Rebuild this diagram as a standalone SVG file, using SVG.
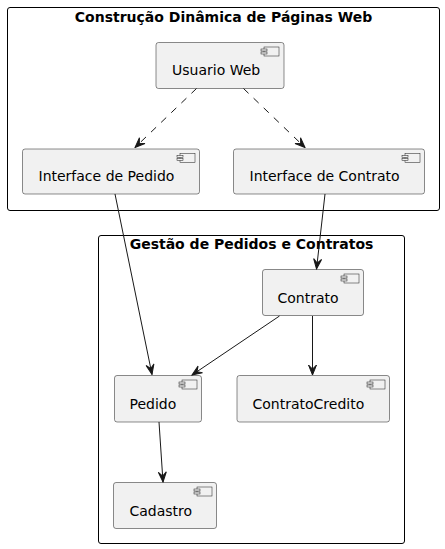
<svg xmlns="http://www.w3.org/2000/svg" width="445" height="549" viewBox="0 0 445 549">
<style>
.pkg{fill:none;stroke:#000;stroke-width:1}
.ptitle{font-family:"DejaVu Sans",sans-serif;font-size:14px;font-weight:bold;fill:#000}
.box{fill:#F1F1F1;stroke:#181818;stroke-width:0.5}
.lbl{font-family:"DejaVu Sans",sans-serif;font-size:14px;fill:#000}
.ic{fill:#F1F1F1;stroke:#181818;stroke-width:0.5}
.e{fill:none;stroke:#181818;stroke-width:1}
.d{stroke-dasharray:7,7}
</style>
<defs>
<marker id="ah" markerUnits="userSpaceOnUse" markerWidth="12" markerHeight="12" viewBox="-11 -6 12 12" refX="0" refY="0" orient="auto">
<path d="M0,0 L-10,-4 L-6,0 L-10,4 Z" fill="#181818" stroke="#181818" stroke-width="1"/>
</marker>
<g id="icon">
<rect class="ic" x="0" y="0" width="15" height="9"/>
<rect class="ic" x="-3" y="2" width="6" height="2"/>
<rect class="ic" x="-3" y="5" width="6" height="2"/>
</g>
</defs>
<g id="pkg-web">
<rect class="pkg" x="7.5" y="7.5" width="432" height="203" rx="2.5"/>
<text class="ptitle" x="223.5" y="22" text-anchor="middle">Construção Dinâmica de Páginas Web</text>
</g>
<g id="pkg-gestao">
<rect class="pkg" x="98.5" y="235.5" width="306" height="308" rx="2.5"/>
<text class="ptitle" x="251.5" y="249" text-anchor="middle">Gestão de Pedidos e Contratos</text>
</g>
<g id="usuario-web">
<rect class="box" x="156" y="42.5" width="128" height="46" rx="2.5"/>
<use href="#icon" x="264" y="47"/>
<text class="lbl" x="172" y="75">Usuario Web</text>
</g>
<g id="interface-pedido">
<rect class="box" x="22.5" y="149" width="177" height="45" rx="2.5"/>
<use href="#icon" x="180" y="153.5"/>
<text class="lbl" x="38.5" y="181">Interface de Pedido</text>
</g>
<g id="interface-contrato">
<rect class="box" x="233.5" y="149" width="191" height="45" rx="2.5"/>
<use href="#icon" x="405" y="153.5"/>
<text class="lbl" x="249.5" y="181">Interface de Contrato</text>
</g>
<g id="contrato">
<rect class="box" x="262.5" y="269.5" width="101" height="46" rx="2.5"/>
<use href="#icon" x="344" y="274"/>
<text class="lbl" x="277.5" y="303">Contrato</text>
</g>
<g id="pedido">
<rect class="box" x="114.5" y="375.5" width="87" height="46.5" rx="2.5"/>
<use href="#icon" x="182" y="380"/>
<text class="lbl" x="129.5" y="409">Pedido</text>
</g>
<g id="contrato-credito">
<rect class="box" x="237" y="375.5" width="152.5" height="46.5" rx="2.5"/>
<use href="#icon" x="370" y="380"/>
<text class="lbl" x="252.5" y="409">ContratoCredito</text>
</g>
<g id="cadastro">
<rect class="box" x="113.5" y="482.5" width="103" height="46" rx="2.5"/>
<use href="#icon" x="197" y="487"/>
<text class="lbl" x="129.5" y="516">Cadastro</text>
</g>
<g id="connectors">
<line class="e d" x1="196.5" y1="88.5" x2="135" y2="147.5" marker-end="url(#ah)"/>
<line class="e d" x1="243.5" y1="88.5" x2="305" y2="147.5" marker-end="url(#ah)"/>
<line class="e" x1="115" y1="194" x2="152" y2="374.5" marker-end="url(#ah)"/>
<line class="e" x1="325" y1="194" x2="316.5" y2="269" marker-end="url(#ah)"/>
<line class="e" x1="279.5" y1="316" x2="192" y2="375" marker-end="url(#ah)"/>
<line class="e" x1="312.5" y1="316" x2="312.5" y2="375" marker-end="url(#ah)"/>
<line class="e" x1="159" y1="422" x2="163" y2="482" marker-end="url(#ah)"/>
</g>
</svg>
